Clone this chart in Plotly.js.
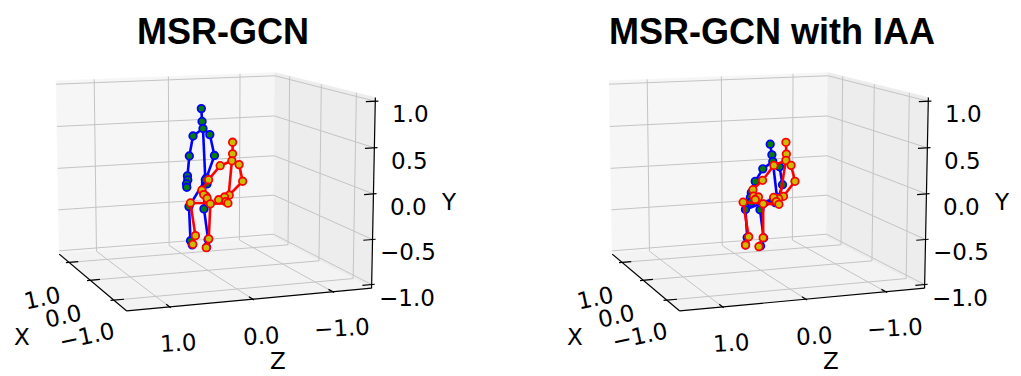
<!DOCTYPE html>
<html>
<head>
<meta charset="utf-8">
<script src="https://cdn.plot.ly/plotly-3.0.1.min.js"></script>
<style>html,body{margin:0;padding:0;background:#fff;}#chart{width:1021px;height:376px;}</style>
</head>
<body>
<div id="chart"></div>
<script>
// ---------------- data ----------------
// Joint order: headTop, head, thorax, shL, elL, wrL, handL, thumbL, tipL,
// shR, elR, wrR, handR, thumbR, tipR, pelvis, kneeL, ankleL, toeL, kneeR, ankleR, toeR
const jointNames = ["headTop","head","thorax","shoulderL","elbowL","wristL","handL","thumbL","tipL",
  "shoulderR","elbowR","wristR","handR","thumbR","tipR","pelvis","kneeL","ankleL","toeL","kneeR","ankleR","toeR"];
const bones = [[0,1],[1,2],[2,3],[3,4],[4,5],[5,6],[5,7],[6,8],[2,9],[9,10],[10,11],[11,12],[11,13],[12,14],
  [2,15],[15,16],[16,17],[17,18],[15,19],[19,20],[20,21]];

// depth (X axis) shared by all poses
const depthX = [0,0,0,0.12,0.12,0.12,0.12,0.12,0.12,-0.12,-0.12,-0.12,-0.12,-0.12,-0.12,0,0.1,0.1,0,-0.1,-0.1,-0.2];

// MSR-GCN panel: blue pose
const msrBlueZ = [0.083,0.074,0.062,0.148,0.196,0.221,0.217,0.234,0.230,0.018,-0.042,0.061,0.048,0.074,0.054,0.032,0.209,0.190,0.203,0.086,0.032,0.088];
const msrBlueY = [0.820,0.675,0.595,0.499,0.273,0.047,0.000,-0.045,-0.083,0.539,0.300,0.051,0.016,0.000,-0.018,0.010,-0.304,-0.701,-0.729,-0.304,-0.660,-0.725];
// MSR-GCN panel: red pose
const msrRedZ = [-0.323,-0.323,-0.314,-0.206,-0.054,0.033,-0.022,0.010,-0.035,-0.362,-0.410,-0.234,-0.174,-0.097,-0.192,-0.263,0.190,0.126,0.195,0.003,0.024,0.092];
const msrRedY = [0.421,0.289,0.209,0.141,-0.012,-0.128,-0.201,-0.180,-0.227,0.180,-0.013,-0.163,-0.180,-0.207,-0.234,-0.277,-0.263,-0.646,-0.723,-0.251,-0.652,-0.730];
// MSR-GCN with IAA panel: blue pose
const iaaBlueZ = [-0.122,-0.144,-0.156,-0.070,0.029,0.080,0.093,0.067,0.087,-0.199,-0.238,-0.187,-0.158,-0.119,-0.145,-0.212,0.164,0.142,0.199,0.047,-0.001,0.076];
const iaaBlueY = [0.408,0.286,0.209,0.112,-0.027,-0.154,-0.211,-0.246,-0.267,0.164,-0.043,-0.192,-0.221,-0.208,-0.244,-0.207,-0.341,-0.667,-0.729,-0.317,-0.644,-0.712];
// MSR-GCN with IAA panel: red pose
const iaaRedZ = [-0.327,-0.333,-0.327,-0.215,-0.067,0.059,0.051,-0.013,0.029,-0.349,-0.401,-0.251,-0.187,-0.123,-0.158,-0.237,0.194,0.122,0.199,0.006,0.006,0.097];
const iaaRedY = [0.420,0.285,0.213,0.144,-0.020,-0.121,-0.197,-0.210,-0.236,0.172,-0.013,-0.177,-0.200,-0.182,-0.232,-0.288,-0.254,-0.659,-0.731,-0.251,-0.641,-0.718];

const panelTitles = ["MSR-GCN", "MSR-GCN with IAA"];
const yTicks = [-1, -0.5, 0, 0.5, 1];
const zTicks = [-1, 0, 1];
const xTicks = [-1, 0, 1];
const zRange = [-1.5, 1.5];
const xRange = [-1.5, 1.5];
const yRange = [-1.04, 1.04];

// ---------------- 3D view (matplotlib-like perspective) ----------------
const view = {elev: 10, azim: 20, dist: 12, scale: 122.9, cx: 207.8, cy: 180.5, boxC: 0.75};
const panelShift = [0, 553];
const rad = Math.PI / 180;
const sp = Math.sin(view.azim * rad), cp = Math.cos(view.azim * rad);
const se = Math.sin(view.elev * rad), ce = Math.cos(view.elev * rad);

function project(Z, X, Y, shift) {
  const a = -(Z - (zRange[0] + zRange[1]) / 2) / ((zRange[1] - zRange[0]) / 2);
  const b = (X - (xRange[0] + xRange[1]) / 2) / ((xRange[1] - xRange[0]) / 2);
  const c = (Y - (yRange[0] + yRange[1]) / 2) / ((yRange[1] - yRange[0]) / 2) * view.boxC;
  const xc = cp * a - sp * b;
  const yc = sp * se * a + cp * se * b + ce * c;
  const zc = view.dist + sp * ce * a + cp * ce * b - se * c;
  const k = view.scale * view.dist / zc;
  return [view.cx + shift + k * xc, view.cy - k * yc];
}

const traces = [];
const annotations = [];
const Zmin = zRange[0], Zmax = zRange[1], Xmin = xRange[0], Xmax = xRange[1], Ymin = yRange[0], Ymax = yRange[1];

function polygon(pts, color, shift) {
  const xs = [], ys = [];
  pts.forEach(p => { const q = project(p[0], p[1], p[2], shift); xs.push(q[0]); ys.push(q[1]); });
  xs.push(xs[0]); ys.push(ys[0]);
  traces.push({type: 'scatter', mode: 'lines', x: xs, y: ys, fill: 'toself', fillcolor: color,
    line: {width: 0.6, color: color}, hoverinfo: 'skip'});
}
function segments(list, color, width, shift) {
  const xs = [], ys = [];
  list.forEach(s => {
    const p = project(s[0][0], s[0][1], s[0][2], shift), q = project(s[1][0], s[1][1], s[1][2], shift);
    xs.push(p[0], q[0], null); ys.push(p[1], q[1], null);
  });
  traces.push({type: 'scatter', mode: 'lines', x: xs, y: ys, line: {color: color, width: width},
    hoverinfo: 'skip', connectgaps: false});
}
function fmt(v) { return v.toFixed(1).replace('-', '\u2212'); }
const tickFont = {family: 'DejaVu Sans', size: 23, color: 'black'};
function label(text, pos, dx, dy, angle, yanchor) {
  annotations.push({x: pos[0] + dx, y: pos[1] + dy, xref: 'x', yref: 'y', text: text, showarrow: false,
    xanchor: 'center', yanchor: yanchor || 'middle', textangle: angle, font: tickFont});
}

function drawAxes(shift) {
  // panes
  polygon([[Zmax, Xmax, Ymin], [Zmin, Xmax, Ymin], [Zmin, Xmax, Ymax], [Zmax, Xmax, Ymax]], 'rgb(246,246,246)', shift);
  polygon([[Zmin, Xmin, Ymin], [Zmin, Xmax, Ymin], [Zmin, Xmax, Ymax], [Zmin, Xmin, Ymax]], 'rgb(237,237,237)', shift);
  polygon([[Zmax, Xmin, Ymin], [Zmin, Xmin, Ymin], [Zmin, Xmax, Ymin], [Zmax, Xmax, Ymin]], 'rgb(243,243,243)', shift);
  // grid
  const grid = [];
  zTicks.forEach(z => {
    grid.push([[z, Xmax, Ymin], [z, Xmax, Ymax]]);
    grid.push([[z, Xmin, Ymin], [z, Xmax, Ymin]]);
  });
  xTicks.forEach(x => {
    grid.push([[Zmin, x, Ymin], [Zmin, x, Ymax]]);
    grid.push([[Zmin, x, Ymin], [Zmax, x, Ymin]]);
  });
  yTicks.forEach(y => {
    grid.push([[Zmax, Xmax, y], [Zmin, Xmax, y]]);
    grid.push([[Zmin, Xmax, y], [Zmin, Xmin, y]]);
  });
  segments(grid, 'rgb(196,196,196)', 1, shift);
  // axis lines and ticks
  const ax = [
    [[Zmax, Xmax, Ymin], [Zmax, Xmin, Ymin]],
    [[Zmax, Xmin, Ymin], [Zmin, Xmin, Ymin]],
    [[Zmin, Xmin, Ymin], [Zmin, Xmin, Ymax]]
  ];
  xTicks.forEach(x => ax.push([[Zmax + 0.04, x, Ymin], [Zmax - 0.12, x, Ymin]]));
  zTicks.forEach(z => ax.push([[z, Xmin - 0.04, Ymin], [z, Xmin + 0.12, Ymin]]));
  yTicks.forEach(y => ax.push([[Zmin - 0.04, Xmin, y], [Zmin + 0.12, Xmin, y]]));
  segments(ax, 'black', 1.2, shift);
  // tick labels
  yTicks.forEach(y => label(fmt(y), project(Zmin, Xmin, y, shift), 35, 13, 0));
  zTicks.forEach(z => label(fmt(z), project(z, Xmin, Ymin, shift), 9, 36.5, -3));
  xTicks.forEach(x => label(fmt(x), project(Zmax, x, Ymin, shift), -27, 36, -12));
  // axis titles
  label('Y', project(Zmin, Xmin, (Ymin + Ymax) / 2, shift), 76, 8, 0);
  const zMid = project((Zmin + Zmax) / 2, Xmin, Ymin, shift);
  annotations.push({x: zMid[0] + 25.5, y: 376, xref: 'x', yref: 'y', text: 'Z', showarrow: false,
    xanchor: 'center', yanchor: 'bottom', font: tickFont});
  label('X', project(Zmax, (Xmin + Xmax) / 2, Ymin, shift), -67.8, 56.4, 0);
}

function drawSkeleton(Z, Y, X, lineColor, fillColor, shift) {
  const lx = [], ly = [];
  bones.forEach(([i, j]) => {
    const p = project(Z[i], X[i], Y[i], shift), q = project(Z[j], X[j], Y[j], shift);
    lx.push(p[0], q[0], null); ly.push(p[1], q[1], null);
  });
  traces.push({type: 'scatter', mode: 'lines', x: lx, y: ly, line: {color: lineColor, width: 2.6},
    hoverinfo: 'skip', connectgaps: false});
  const mx = [], my = [];
  Z.forEach((z, i) => { const p = project(z, X[i], Y[i], shift); mx.push(p[0]); my.push(p[1]); });
  traces.push({type: 'scatter', mode: 'markers', x: mx, y: my,
    marker: {size: 7.5, color: fillColor, line: {color: lineColor, width: 1.8}}, hoverinfo: 'skip'});
}

drawAxes(panelShift[0]);
drawSkeleton(msrBlueZ, msrBlueY, depthX, 'blue', 'green', panelShift[0]);
drawSkeleton(msrRedZ, msrRedY, depthX, 'red', 'rgb(200,190,0)', panelShift[0]);
drawAxes(panelShift[1]);
drawSkeleton(iaaBlueZ, iaaBlueY, depthX, 'blue', 'green', panelShift[1]);
drawSkeleton(iaaRedZ, iaaRedY, depthX, 'red', 'rgb(200,190,0)', panelShift[1]);

const titleFont = {family: 'Liberation Sans', size: 36, color: 'black'};
annotations.push({text: '<b>' + panelTitles[0] + '</b>', x: 222.5, y: 31, xref: 'x', yref: 'y',
  xanchor: 'center', yanchor: 'middle', showarrow: false, font: titleFont});
annotations.push({text: '<b>' + panelTitles[1] + '</b>', x: 771.7, y: 31, xref: 'x', yref: 'y',
  xanchor: 'center', yanchor: 'middle', showarrow: false, font: titleFont});

const layout = {
  width: 1021, height: 376,
  margin: {l: 0, r: 0, t: 0, b: 0},
  paper_bgcolor: 'white', plot_bgcolor: 'white',
  showlegend: false,
  xaxis: {range: [0, 1021], visible: false, fixedrange: true},
  yaxis: {range: [376, 0], visible: false, fixedrange: true},
  annotations: annotations
};

Plotly.newPlot('chart', traces, layout, {displayModeBar: false, staticPlot: true});
</script>
</body>
</html>
